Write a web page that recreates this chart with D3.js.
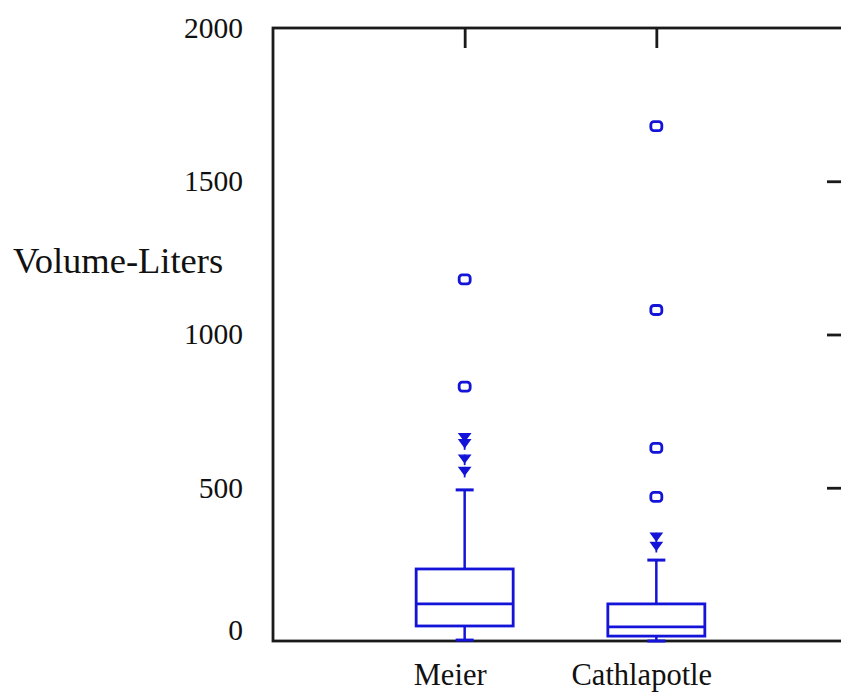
<!DOCTYPE html>
<html>
<head>
<meta charset="utf-8">
<script src="https://cdn.jsdelivr.net/npm/d3@7/dist/d3.min.js"></script>
<style>
  html, body { margin: 0; padding: 0; background: #fff; }
  svg { display: block; }
  text { font-family: "Liberation Serif", "Times New Roman", serif; fill: #111; }
</style>
</head>
<body>
<svg id="chart" width="841" height="696"></svg>
<script>
// Box-plot summaries of vessel volume (litres) per site
const categories = ["Meier", "Cathlapotle"];
const whiskerLow = [3, 0];
const q1 = [49, 16];
const medians = [121, 46];
const q3 = [235, 121];
const whiskerHigh = [493, 264];
// Outliers beyond the whiskers (star markers) and extreme values (open markers)
const starOutliers = [[665, 645, 595, 555], [340, 310]];
const extremeOutliers = [[830, 1180], [470, 630, 1080, 1680]];
const yTicks = [0, 500, 1000, 1500, 2000];
const yLabel = "Volume-Liters";

const svg = d3.select("#chart");
const frame = { left: 273, right: 848, top: 28, bottom: 641 };
const blue = "#1414d8";

const y = d3.scaleLinear().domain([0, 2000]).range([frame.bottom, frame.top]);
const x = d3.scalePoint().domain(categories).range([frame.left, frame.right]).padding(1);

// Frame
svg.append("rect")
  .attr("x", frame.left).attr("y", frame.top)
  .attr("width", frame.right - frame.left).attr("height", frame.bottom - frame.top)
  .attr("fill", "none").attr("stroke", "#1a1a1a").attr("stroke-width", 2.8);

// Left axis labels
const leftAxis = svg.append("g").attr("transform", `translate(${frame.left},0)`)
  .call(d3.axisLeft(y).tickValues(yTicks).tickSize(0).tickPadding(30).tickFormat(d3.format("d")));
leftAxis.select(".domain").remove();
leftAxis.selectAll("text")
  .style("font-family", "'Liberation Serif', 'Times New Roman', serif")
  .style("font-size", "29.5px").attr("fill", "#111")
  .attr("dy", d => d === 0 ? "-0.05em" : "0.32em");

// Top ticks at the category positions
const topAxis = svg.append("g").attr("transform", `translate(0,${frame.top})`)
  .call(d3.axisTop(x).tickSize(-20).tickFormat(""));
topAxis.select(".domain").remove();
topAxis.selectAll("line").attr("stroke", "#1a1a1a").attr("stroke-width", 2.8);

// Right ticks
const rightAxis = svg.append("g").attr("transform", `translate(${frame.right},0)`)
  .call(d3.axisRight(y).tickValues([500, 1000, 1500]).tickSize(-21).tickFormat(""));
rightAxis.select(".domain").remove();
rightAxis.selectAll("line").attr("stroke", "#1a1a1a").attr("stroke-width", 2.8);

// Category labels
svg.selectAll("text.cat").data(categories).join("text")
  .attr("class", "cat")
  .attr("x", d => x(d) - 14.5)
  .attr("y", 685)
  .attr("text-anchor", "middle")
  .style("font-size", "30.5px")
  .text(d => d);

// Y axis title
svg.append("text")
  .attr("x", 13).attr("y", 273)
  .style("font-size", "36.5px")
  .text(yLabel);

// Boxes
const boxW = 97, capW = 18;
const g = svg.append("g");
categories.forEach((c, i) => {
  const cx = x(c);
  // whiskers
  g.append("line").attr("x1", cx).attr("x2", cx)
    .attr("y1", y(q3[i])).attr("y2", y(whiskerHigh[i]))
    .attr("stroke", blue).attr("stroke-width", 2.5);
  g.append("line").attr("x1", cx).attr("x2", cx)
    .attr("y1", y(q1[i])).attr("y2", y(whiskerLow[i]))
    .attr("stroke", blue).attr("stroke-width", 2.5);
  [whiskerHigh[i], whiskerLow[i]].forEach(v => {
    g.append("line").attr("x1", cx - capW / 2).attr("x2", cx + capW / 2)
      .attr("y1", y(v)).attr("y2", y(v))
      .attr("stroke", blue).attr("stroke-width", 3);
  });
  // box
  g.append("rect")
    .attr("x", cx - boxW / 2).attr("y", y(q3[i]))
    .attr("width", boxW).attr("height", y(q1[i]) - y(q3[i]))
    .attr("fill", "none").attr("stroke", blue).attr("stroke-width", 2.8);
  g.append("line").attr("x1", cx - boxW / 2).attr("x2", cx + boxW / 2)
    .attr("y1", y(medians[i])).attr("y2", y(medians[i]))
    .attr("stroke", blue).attr("stroke-width", 2.8);

  // star outliers: small down-pointing markers
  starOutliers[i].forEach(v => {
    const yy = y(v);
    g.append("path")
      .attr("d", `M${cx - 5.5},${yy - 3.5} L${cx + 5.5},${yy - 3.5} L${cx},${yy + 4} Z`)
      .attr("fill", blue).attr("stroke", blue).attr("stroke-width", 1.4);
    g.append("line").attr("x1", cx).attr("x2", cx)
      .attr("y1", yy - 4).attr("y2", yy + 6.5)
      .attr("stroke", blue).attr("stroke-width", 1.8);
  });

  // extreme outliers: open rounded markers
  extremeOutliers[i].forEach(v => {
    g.append("rect")
      .attr("x", cx - 5.5).attr("y", y(v) - 4.5)
      .attr("width", 11).attr("height", 9)
      .attr("rx", 3)
      .attr("fill", "none").attr("stroke", blue).attr("stroke-width", 2.8);
  });
});
</script>
</body>
</html>
